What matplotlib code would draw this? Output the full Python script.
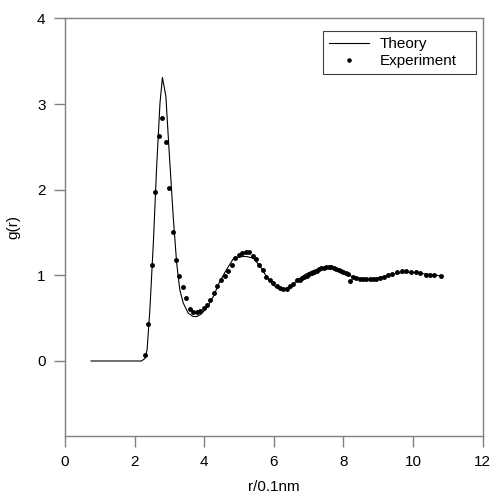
import matplotlib
matplotlib.use("Agg")
import matplotlib.pyplot as plt

plt.rcParams['font.family'] = ['Liberation Sans', 'DejaVu Sans']

# theory curve g(r)
r_theory = [0.75, 2.2, 2.3, 2.36, 2.44, 2.54, 2.63, 2.73, 2.80, 2.90, 2.99, 3.11,
            3.21, 3.30, 3.40, 3.54, 3.68, 3.80, 3.92, 4.07, 4.26, 4.45, 4.64, 4.83,
            5.02, 5.22, 5.41, 5.6, 5.8, 6.0, 6.15, 6.3, 6.5, 6.7, 6.9, 7.1, 7.3,
            7.5, 7.7, 7.9, 8.1, 8.3, 8.5, 8.7, 8.9, 9.1, 9.3, 9.5, 9.7, 9.9, 10.1,
            10.3, 10.5, 10.8]
g_theory = [0.0, 0.0, 0.03, 0.13, 0.6, 1.38, 2.23, 3.01, 3.31, 3.09, 2.47, 1.69,
            1.14, 0.83, 0.675, 0.56, 0.52, 0.52, 0.55, 0.62, 0.75, 0.93, 1.065, 1.19,
            1.22, 1.22, 1.20, 1.11, 0.98, 0.88, 0.84, 0.84, 0.88, 0.95, 1.01, 1.05, 1.08,
            1.09, 1.08, 1.05, 1.01, 0.98, 0.965, 0.96, 0.965, 0.98, 1.0, 1.02, 1.03, 1.035, 1.03,
            1.02, 1.01, 0.995]

# experimental points
r_exp = [2.30, 2.39, 2.49, 2.59, 2.69, 2.79, 2.89, 3.00, 3.09, 3.19, 3.28, 3.39,
         3.48, 3.59, 3.68, 3.79, 3.89, 3.99, 4.09, 4.18, 4.29, 4.38, 4.49, 4.59,
         4.69, 4.79, 4.89, 4.99, 5.09, 5.19, 5.28, 5.39, 5.48, 5.58, 5.68, 5.77,
         5.89, 5.98, 6.08, 6.17, 6.27, 6.37, 6.46, 6.56, 6.67,
         6.74, 6.81, 6.88, 6.95, 7.02, 7.09, 7.16, 7.23, 7.30, 7.37, 7.44, 7.51,
         7.58, 7.65, 7.72, 7.79, 7.86, 7.93, 8.00, 8.07, 8.14, 8.20,
         8.28, 8.37, 8.47, 8.57, 8.66, 8.76, 8.85, 8.95, 9.04, 9.16, 9.28, 9.41,
         9.54, 9.67, 9.81, 9.95, 10.08, 10.21, 10.37, 10.48, 10.59, 10.79]
g_exp = [0.065, 0.43, 1.12, 1.97, 2.63, 2.84, 2.56, 2.02, 1.51, 1.175, 0.997, 0.868,
         0.731, 0.61, 0.576, 0.568, 0.588, 0.619, 0.654, 0.708, 0.79, 0.88, 0.946, 0.997,
         1.051, 1.117, 1.199, 1.242, 1.265, 1.273, 1.273, 1.23, 1.192, 1.117, 1.067, 0.981,
         0.942, 0.907, 0.88, 0.853, 0.841, 0.845, 0.871, 0.903, 0.942,
         0.95, 0.965, 0.98, 0.995, 1.01, 1.025, 1.04, 1.055, 1.07, 1.08, 1.09, 1.095,
         1.095, 1.095, 1.09, 1.075, 1.06, 1.05, 1.04, 1.025, 1.01, 0.93,
         0.985, 0.965, 0.958, 0.955, 0.955, 0.955, 0.958, 0.96, 0.97, 0.98, 1.0, 1.02,
         1.035, 1.047, 1.047, 1.04, 1.035, 1.028, 1.008, 1.0, 1.0, 0.988]

fig = plt.figure(figsize=(4.92, 4.98), dpi=100)
ax = fig.add_axes([0.132, 0.1255, 0.849, 0.8375])

ax.plot(r_theory, g_theory, color='black', lw=0.8, label='Theory')
ax.plot(r_exp, g_exp, 'o', color='black', ms=2.5, ls='none', label='Experiment')

ax.set_xlim(0, 12)
ax.set_ylim(-0.87, 4)
ax.set_xticks([0, 2, 4, 6, 8, 10, 12])
ax.set_yticks([0, 1, 2, 3, 4])
ax.set_xlabel('r/0.1nm', fontsize=11, labelpad=8)
ax.set_ylabel('g(r)', fontsize=11, labelpad=12)

for s in ax.spines.values():
    s.set_color('#808080')
    s.set_linewidth(1.0)
ax.tick_params(direction='out', length=8, width=1, color='#808080',
               labelsize=11, pad=6)

leg = ax.legend(loc='upper left', mode='expand', fontsize=11, fancybox=False,
                framealpha=1, edgecolor='#404040', handlelength=2.6,
                handletextpad=0.7, borderpad=0.4, labelspacing=0.2,
                bbox_to_anchor=(0.618, 0.0, 0.366, 0.9696), borderaxespad=0,
                markerscale=0.9)
leg.get_frame().set_linewidth(0.8)

fig.savefig('out.png', dpi=100)
